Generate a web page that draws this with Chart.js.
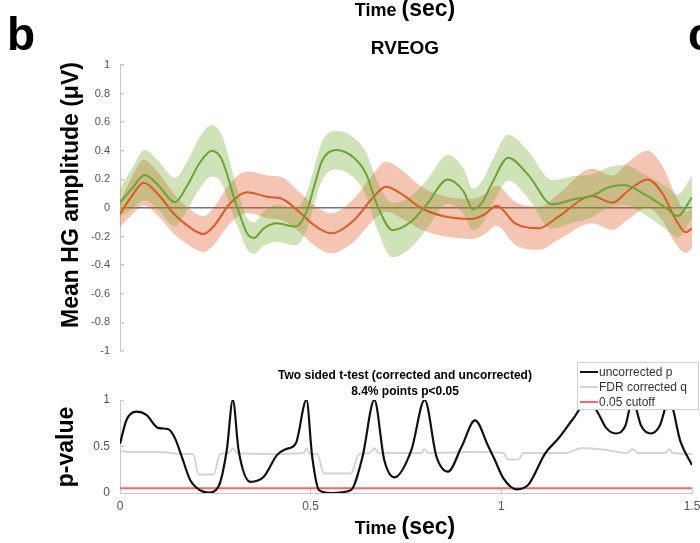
<!DOCTYPE html>
<html>
<head>
<meta charset="utf-8">
<script src="https://cdn.jsdelivr.net/npm/chart.js@4.4.0/dist/chart.umd.min.js"></script>
<style>
  body { margin: 0; background: #fff; }
  #wrap { position: relative; width: 700px; height: 543px; overflow: hidden; }
  #amp { position: absolute; left: 0; top: 0; }
  #pval { position: absolute; left: 0; top: 360px; }
  #ann { position: absolute; left: 0; top: 0; pointer-events: none; }
</style>
</head>
<body>
<div id="wrap">
  <canvas id="amp" width="700" height="360"></canvas>
  <canvas id="pval" width="700" height="183"></canvas>
  <svg id="ann" width="700" height="543" font-family="Liberation Sans, Arial, sans-serif">
    <g font-weight="bold" fill="#000">
      <text x="405" y="16" text-anchor="middle"><tspan font-size="18">Time </tspan><tspan font-size="23">(sec)</tspan></text>
      <text x="7" y="50" font-size="46">b</text>
      <text x="688" y="50" font-size="46">c</text>
      <text x="405" y="54" font-size="19" text-anchor="middle">RVEOG</text>
      <text transform="translate(78 195) rotate(-90)" font-size="23" text-anchor="middle">Mean HG amplitude (μV)</text>
      <text transform="translate(73 447) rotate(-90)" font-size="23" text-anchor="middle">p-value</text>
      <text x="405" y="379" font-size="12" text-anchor="middle">Two sided t-test (corrected and uncorrected)</text>
      <text x="405" y="395" font-size="12" text-anchor="middle">8.4% points p&lt;0.05</text>
      <text x="405" y="534" text-anchor="middle"><tspan font-size="18">Time </tspan><tspan font-size="23">(sec)</tspan></text>
    </g>
    <g font-size="12" fill="#333">
      <rect x="577.5" y="362.5" width="121" height="47" fill="#fff" stroke="#d0d0d0"/>
      <line x1="580" x2="598" y1="372" y2="372" stroke="#111" stroke-width="2"/>
      <text x="599" y="376">uncorrected p</text>
      <line x1="580" x2="598" y1="387" y2="387" stroke="#d4d4d4" stroke-width="2"/>
      <text x="599" y="391">FDR corrected q</text>
      <line x1="580" x2="598" y1="402" y2="402" stroke="#ff6464" stroke-width="2"/>
      <text x="599" y="406">0.05 cutoff</text>
    </g>
  </svg>
</div>
<script>
// time range of the epoch (sec)
const tStart = 0;
const tEnd = 1.5;

// condition 1 (green): mean HG amplitude and its error
const greenT = [0, 0.03, 0.065, 0.10, 0.144, 0.175, 0.21, 0.241, 0.265, 0.28, 0.298, 0.316, 0.333, 0.351,
  0.377, 0.412, 0.46, 0.49, 0.509, 0.53, 0.566, 0.614, 0.645, 0.676, 0.715, 0.764, 0.803, 0.86, 0.90,
  0.926, 0.95, 0.975, 1.018, 1.071, 1.133, 1.194, 1.238, 1.282, 1.322, 1.379, 1.432, 1.462, 1.5];
const greenMean = [0.04, 0.13, 0.23, 0.16, 0.04, 0.15, 0.32, 0.40, 0.35, 0.243, 0.08, -0.06, -0.177, -0.21,
  -0.142, -0.107, -0.13, -0.02, 0.15, 0.33, 0.405, 0.35, 0.24, 0.01, -0.155, -0.095, 0.02, 0.20, 0.12,
  -0.01, 0.04, 0.17, 0.352, 0.23, 0.026, 0.063, 0.086, 0.145, 0.16, 0.09, 0.0, -0.056, 0.075];
const greenErr = [0.10, 0.14, 0.175, 0.17, 0.17, 0.17, 0.18, 0.18, 0.17, 0.16, 0.14, 0.12, 0.11, 0.11,
  0.12, 0.13, 0.13, 0.13, 0.13, 0.135, 0.135, 0.14, 0.15, 0.17, 0.19, 0.18, 0.17, 0.17, 0.16,
  0.145, 0.15, 0.155, 0.16, 0.165, 0.17, 0.16, 0.15, 0.14, 0.14, 0.14, 0.15, 0.15, 0.15];

// condition 2 (red): mean HG amplitude and its error
const redT = [0, 0.03, 0.062, 0.105, 0.14, 0.175, 0.219, 0.245, 0.289, 0.333, 0.395, 0.421, 0.474, 0.509,
  0.553, 0.614, 0.658, 0.698, 0.737, 0.79, 0.852, 0.922, 0.957, 0.988, 1.036, 1.098, 1.15, 1.238, 1.291,
  1.335, 1.383, 1.423, 1.458, 1.484, 1.5];
const redMean = [-0.042, 0.08, 0.177, 0.08, -0.037, -0.12, -0.182, -0.13, 0.033, 0.11, 0.075, 0.068, -0.037, -0.12,
  -0.177, -0.084, 0.056, 0.149, 0.10, 0.0, -0.06, -0.077, -0.042, 0.016, -0.107, -0.142, -0.06, 0.084, 0.037,
  0.126, 0.20, 0.10, -0.084, -0.17, -0.142];
const redErr = [0.09, 0.13, 0.16, 0.15, 0.14, 0.13, 0.125, 0.13, 0.14, 0.145, 0.15, 0.15, 0.14, 0.14,
  0.14, 0.15, 0.16, 0.175, 0.17, 0.15, 0.14, 0.14, 0.14, 0.14, 0.15, 0.15, 0.16, 0.19, 0.19,
  0.2, 0.2, 0.19, 0.17, 0.145, 0.14];

// two sided t-test: uncorrected p
const pT = [0, 0.017, 0.043, 0.069, 0.10, 0.127, 0.144, 0.162, 0.184, 0.21, 0.232, 0.258, 0.28, 0.296, 0.311,
  0.342, 0.377, 0.412, 0.434, 0.461, 0.489, 0.504, 0.522, 0.553, 0.605, 0.636, 0.667, 0.693, 0.72, 0.764,
  0.799, 0.83, 0.86, 0.896, 0.931, 0.966, 0.983, 1.005, 1.04, 1.071, 1.115, 1.15, 1.186, 1.23, 1.255,
  1.275, 1.30, 1.325, 1.344, 1.367, 1.392, 1.415, 1.44, 1.47, 1.5];
const pUncorrected = [0.53, 0.785, 0.874, 0.84, 0.70, 0.685, 0.59, 0.39, 0.14, 0.03, 0.005, 0.068, 0.46, 1.0, 0.46,
  0.12, 0.175, 0.41, 0.47, 0.534, 1.0, 0.39, 0.03, 0.0, 0.03, 0.39, 1.0, 0.355, 0.168, 0.46,
  1.0, 0.39, 0.23, 0.5, 0.78, 0.5, 0.355, 0.16, 0.04, 0.09, 0.427, 0.588, 0.785, 1.0, 0.85,
  0.7, 0.64, 0.72, 1.0, 0.72, 0.64, 0.72, 1.0, 0.55, 0.3];

// FDR corrected q
const qT = [0, 0.02, 0.1, 0.17, 0.192, 0.206, 0.245, 0.263, 0.285, 0.296, 0.307, 0.40, 0.48, 0.489, 0.498,
  0.517, 0.535, 0.605, 0.627, 0.655, 0.667, 0.679, 0.79, 0.799, 0.808, 0.93, 1.005, 1.018, 1.045, 1.058,
  1.17, 1.21, 1.26, 1.33, 1.344, 1.358, 1.43, 1.44, 1.45, 1.5];
const qFdr = [0.46, 0.44, 0.44, 0.42, 0.42, 0.2, 0.2, 0.42, 0.43, 0.48, 0.43, 0.42, 0.43, 0.48, 0.42,
  0.42, 0.21, 0.21, 0.42, 0.43, 0.48, 0.43, 0.43, 0.47, 0.43, 0.44, 0.43, 0.36, 0.36, 0.43,
  0.43, 0.48, 0.47, 0.43, 0.47, 0.43, 0.43, 0.47, 0.43, 0.42];

const cutoff = 0.05;

function pts(t, v) {
  return t.map((x, i) => ({ x: x, y: v[i] }));
}
function edge(t, m, e, sign) {
  return t.map((x, i) => ({ x: x, y: m[i] + sign * e[i] }));
}

const tickFont = { family: 'Liberation Sans, Arial, sans-serif', size: 11 };
const fmt = v => String(Math.round(v * 10) / 10);
const axisGray = '#c8c8c8';

// keep the plot box fixed: y axis 120px wide, no extra room for end labels
function fixY(s) {
  s.width = 120;
  s.paddingTop = 0;
  s.paddingBottom = 0;
}
function fixX(s) {
  s.height = 50;
  s.paddingLeft = 0;
  s.paddingRight = 0;
}

new Chart(document.getElementById('amp'), {
  type: 'line',
  data: {
    datasets: [
      { data: pts(greenT, greenMean), borderColor: '#6aa536', borderWidth: 2 },
      { data: pts(redT, redMean), borderColor: '#dd5a22', borderWidth: 2 },
      { data: edge(greenT, greenMean, greenErr, 1), borderWidth: 0, fill: '+1', backgroundColor: 'rgba(119,172,48,0.35)' },
      { data: edge(greenT, greenMean, greenErr, -1), borderWidth: 0 },
      { data: edge(redT, redMean, redErr, 1), borderWidth: 0, fill: '+1', backgroundColor: 'rgba(225,90,40,0.35)' },
      { data: edge(redT, redMean, redErr, -1), borderWidth: 0 }
    ]
  },
  options: {
    responsive: false,
    animation: false,
    layout: { padding: { top: 65, right: 8, bottom: 9, left: 0 } },
    elements: { point: { radius: 0 }, line: { cubicInterpolationMode: 'monotone' } },
    plugins: {
      legend: { display: false },
      tooltip: { enabled: false },
      filler: { drawTime: 'beforeDatasetsDraw' }
    },
    scales: {
      x: { type: 'linear', min: tStart, max: tEnd, display: false },
      y: {
        min: -1, max: 1, z: 1,
        afterFit: fixY,
        border: { color: axisGray },
        grid: {
          color: c => Math.abs(c.tick.value) < 1e-9 ? 'rgba(90,90,90,0.85)' : 'transparent',
          lineWidth: 1.5,
          tickColor: axisGray,
          tickLength: -4
        },
        ticks: { stepSize: 0.2, color: '#555', font: tickFont, padding: 14, callback: fmt }
      }
    }
  }
});

new Chart(document.getElementById('pval'), {
  type: 'line',
  data: {
    datasets: [
      { data: pts(pT, pUncorrected), borderColor: '#111', borderWidth: 2.2 },
      { data: pts(qT, qFdr), borderColor: '#d4d4d4', borderWidth: 2 },
      { data: [{ x: tStart, y: cutoff }, { x: tEnd, y: cutoff }], borderColor: '#ff6464', borderWidth: 2 }
    ]
  },
  options: {
    responsive: false,
    animation: false,
    layout: { padding: { top: 40, right: 8, bottom: 0, left: 0 } },
    elements: { point: { radius: 0 }, line: { cubicInterpolationMode: 'monotone' } },
    plugins: { legend: { display: false }, tooltip: { enabled: false } },
    scales: {
      x: {
        type: 'linear', min: tStart, max: tEnd,
        afterFit: fixX,
        border: { color: axisGray },
        grid: { drawOnChartArea: false, color: axisGray, tickLength: -4 },
        ticks: { stepSize: 0.5, color: '#555', font: { family: tickFont.family, size: 12 }, padding: 10, callback: fmt, maxRotation: 0 }
      },
      y: {
        min: 0, max: 1,
        afterFit: fixY,
        border: { color: axisGray },
        grid: { drawOnChartArea: false, color: axisGray, tickLength: -4 },
        ticks: { stepSize: 0.5, color: '#555', font: { family: tickFont.family, size: 12 }, padding: 14, callback: fmt }
      }
    }
  }
});
</script>
</body>
</html>
